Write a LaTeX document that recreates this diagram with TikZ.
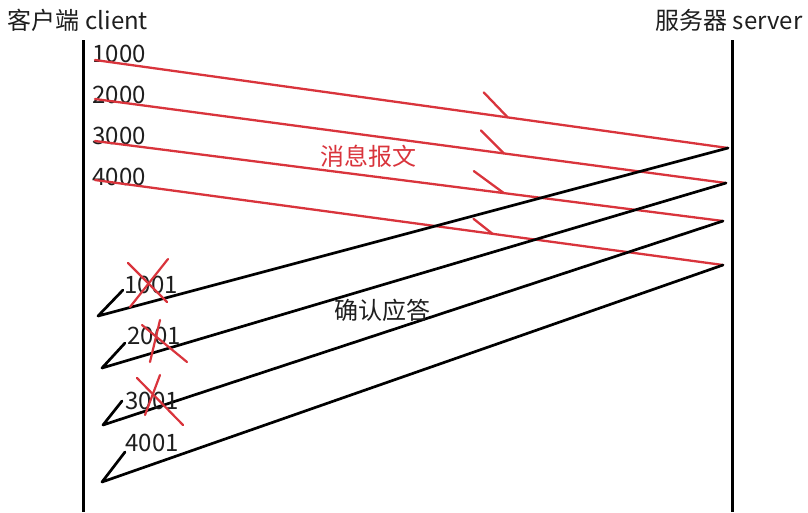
\documentclass[tikz,border=0pt]{standalone}
\usepackage{fontspec}
\setmainfont{Noto Sans CJK SC}
\usepackage{tikz}
\usetikzlibrary{positioning, calc}
\definecolor{MsgRed}{HTML}{D9343C}
\definecolor{Ink}{HTML}{1E1E1E}

\begin{document}
\begin{tikzpicture}[x=1pt, y=-1pt, line join=round, line cap=round]
  \useasboundingbox (0,0) rectangle (808,512);
  \tikzset{
    lbl/.style={font=\fontsize{24}{26}\selectfont, text=Ink, inner sep=0pt},
    msg/.style={draw=MsgRed, line width=2.3pt},
    ack/.style={draw=black, line width=2.7pt},
    life/.style={draw=black, line width=3pt, line cap=butt},
    cross/.style={draw=MsgRed, line width=2.2pt}
  }

  % Timelines
  \node[lbl] (client) at (78,20) {客户端 client};
  \node[lbl] (server) at (729,20) {服务器 server};
  \coordinate (cTop) at (83,40);  \coordinate (cBot) at (83,512);
  \coordinate (sTop) at (732,40); \coordinate (sBot) at (732,512);
  \draw[life] (cTop) -- (cBot);
  \draw[life] (sTop) -- (sBot);

  % Sequence numbers at the client
  \node[lbl] (n1) at (119,54) {1000};
  \node[lbl] (n2) at (119,95) {2000};
  \node[lbl] (n3) at (119,136) {3000};
  \node[lbl] (n4) at (119,177) {4000};

  % Message segments
  \coordinate (c1) at (95,60);  \coordinate (s1) at (728,148);
  \coordinate (c2) at (95,99);  \coordinate (s2) at (726,183);
  \coordinate (c3) at (95,141); \coordinate (s3) at (723,221);
  \coordinate (c4) at (95,180); \coordinate (s4) at (723,265);
  \draw[msg] (c1) -- (s1);
  \draw[msg] (c2) -- (s2);
  \draw[msg] (c3) -- (s3);
  \draw[msg] (c4) -- (s4);
  \draw[msg] ($(c1)!0.652!(s1)$) -- ++(-24,-25);
  \draw[msg] ($(c2)!0.648!(s2)$) -- ++(-23,-23);
  \draw[msg] ($(c3)!0.651!(s3)$) -- ++(-30,-22);
  \draw[msg] ($(c4)!0.633!(s4)$) -- ++(-19,-15);
  \node[lbl, text=MsgRed] (msgtxt) at (368,156) {消息报文};

  % Acknowledgements back to the client
  \coordinate (a1) at (98,316);  \coordinate (t1) at (123,290);
  \coordinate (a2) at (102,368); \coordinate (t2) at (125,343);
  \coordinate (a3) at (103,425); \coordinate (t3) at (122,401);
  \coordinate (a4) at (102,482); \coordinate (t4) at (125,452);
  \draw[ack] (s1) -- (a1) -- (t1);
  \draw[ack] (s2) -- (a2) -- (t2);
  \draw[ack] (s3) -- (a3) -- (t3);
  \draw[ack] (s4) -- (a4) -- (t4);
  \node[lbl] (acktxt) at (382,310) {确认应答};

  \node[lbl] (k1) at (151,285) {1001};
  \node[lbl] (k2) at (154,336) {2001};
  \node[lbl] (k3) at (152,401) {3001};
  \node[lbl] (k4) at (152,443) {4001};

  % Lost acks
  \draw[cross] (128,263) -- (167,302);
  \draw[cross] (168,259) -- (130,307);
  \draw[cross] (142,325) -- (187,362);
  \draw[cross] (160,320) -- (150,362);
  \draw[cross] (137,378) -- (183,425);
  \draw[cross] (160,375) -- (145,415);
\end{tikzpicture}
\end{document}
